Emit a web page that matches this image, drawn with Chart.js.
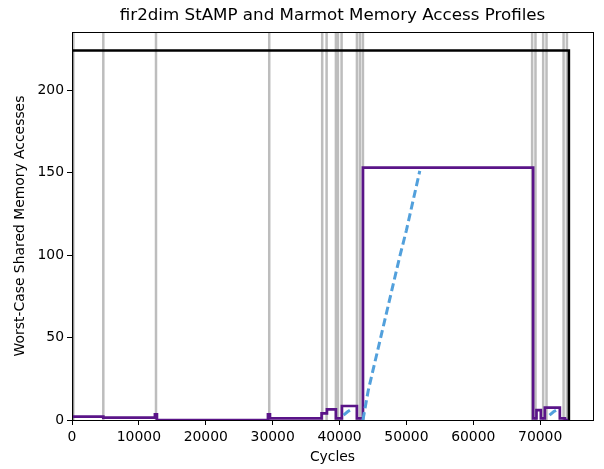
<!DOCTYPE html>
<html>
<head>
<meta charset="utf-8">
<script src="https://cdn.jsdelivr.net/npm/chart.js@4"></script>
<style>
  html, body { margin: 0; padding: 0; background: #fff; }
  #wrap { width: 604px; height: 469px; }
</style>
</head>
<body>
<div id="wrap"><canvas id="profileChart"></canvas></div>
<script>
// data
const xTicks = [0, 10000, 20000, 30000, 40000, 50000, 60000, 70000];
const yTicks = [0, 50, 100, 150, 200];

// StAMP worst-case bound (black)
const stampX = [0, 0, 74300];
const stampY = [0, 224, 0];

// Marmot profile (purple step)
const marmotX = [0, 4680, 12400, 12700, 29300, 29600, 37320, 38120, 39460, 40360, 42600, 43500, 68950, 69450, 70100, 70700, 72940, 73700, 74200];
const marmotY = [2, 1.5, 3.5, 0, 3.5, 1, 4, 6.5, 1, 8.5, 1, 153, 1, 6, 1, 7.5, 1, 0, 0];

// dashed ramp (blue), null = gap
const rampX = [40600, 41200, 41800, null, 43500, 44300, 49000, 50000, 52000, null, 71400, 72000, 72700];
const rampY = [3, 5, 6.5, null, 0, 18, 99, 115, 151, null, 3, 5, 6.5];

// event markers (grey vertical lines)
const eventX = [200, 4680, 12560, 29490, 37410, 38070, 39460, 39760, 40310, 42600, 43050, 43500, 68800, 69300, 70450, 70950, 73500, 74000];

const chartTitle = "fir2dim StAMP and Marmot Memory Access Profiles";
const yMax = 235.2;
const xMax = 77900;

function pts(xs, ys) {
  return xs.map((x, i) => (x === null ? { x: NaN, y: null } : { x: x, y: ys[i] }));
}

const eventPts = [];
eventX.forEach((x) => {
  eventPts.push({ x: x, y: 0 }, { x: x, y: yMax }, { x: x, y: null });
});

const font = "'DejaVu Sans', sans-serif";

// frame round the plot area + title centred over it
const frame = {
  id: "frame",
  afterDatasetsDraw(chart) {
    const a = chart.chartArea;
    const c = chart.ctx;
    c.save();
    c.strokeStyle = "#000";
    c.lineWidth = 1;
    c.strokeRect(Math.round(a.left) + 0.5, Math.round(a.top) + 0.5, Math.round(a.right - a.left), Math.round(a.bottom - a.top));
    c.fillStyle = "#000";
    c.font = "16.7px " + font;
    c.textAlign = "center";
    c.textBaseline = "middle";
    c.fillText(chartTitle, (a.left + a.right) / 2, 16);
    c.restore();
  },
};

new Chart(document.getElementById("profileChart").getContext("2d"), {
  type: "line",
  data: {
    datasets: [
      {
        data: eventPts,
        borderColor: "rgba(145,145,145,0.6)",
        borderWidth: 2.5,
        pointRadius: 0,
        spanGaps: false,
        order: 4,
      },
      {
        data: pts(stampX, stampY),
        borderColor: "#000",
        borderWidth: 2.5,
        pointRadius: 0,
        stepped: "before",
        order: 3,
      },
      {
        data: pts(marmotX, marmotY),
        borderColor: "#5a1488",
        borderWidth: 2.7,
        pointRadius: 0,
        stepped: "before",
        order: 2,
      },
      {
        data: pts(rampX, rampY),
        borderColor: "#52a0dc",
        borderWidth: 3,
        borderDash: [8, 4],
        pointRadius: 0,
        spanGaps: false,
        order: 1,
      },
    ],
  },
  options: {
    animation: false,
    responsive: true,
    maintainAspectRatio: false,
    layout: { padding: { left: 0, right: 11, top: 32, bottom: 0 } },
    plugins: {
      legend: { display: false },
      tooltip: { enabled: false },
      title: { display: false },
    },
    scales: {
      x: {
        type: "linear",
        min: 0,
        max: xMax,
        afterBuildTicks: (s) => { s.ticks = xTicks.map((v) => ({ value: v })); },
        afterFit: (s) => { s.height = 49; },
        grid: { drawOnChartArea: false, color: "#000", tickLength: 5 },
        border: { display: true, color: "#000" },
        ticks: { color: "#000", font: { family: font, size: 13.9 }, padding: 4, maxRotation: 0, callback: (v) => String(v) },
        title: { display: true, text: "Cycles", color: "#000", font: { family: font, size: 13.9 }, padding: { top: 0, bottom: 3 } },
      },
      y: {
        type: "linear",
        min: 0,
        max: yMax,
        afterBuildTicks: (s) => { s.ticks = yTicks.map((v) => ({ value: v })); },
        afterFit: (s) => { s.width = 72; },
        grid: { drawOnChartArea: false, color: "#000", tickLength: 5 },
        border: { display: true, color: "#000" },
        ticks: { color: "#000", font: { family: font, size: 13.9 }, padding: 3, callback: (v) => String(v) },
        title: { display: true, text: "Worst-Case Shared Memory Accesses", color: "#000", font: { family: font, size: 13.9 }, padding: { top: 12, bottom: 0 } },
      },
    },
  },
  plugins: [frame],
});
</script>
</body>
</html>
